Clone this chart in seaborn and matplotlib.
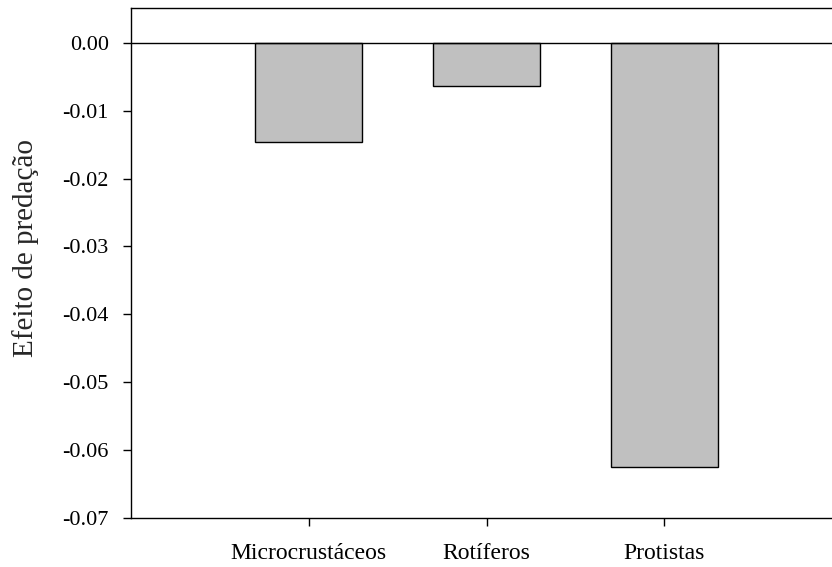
import matplotlib
matplotlib.use('Agg')
import matplotlib.pyplot as plt
import seaborn as sns
import pandas as pd

# data
categories = ['Microcrustáceos', 'Rotíferos', 'Protistas']
effects = [-0.0146, -0.0063, -0.0625]
y_ticks = [0.00, -0.01, -0.02, -0.03, -0.04, -0.05, -0.06, -0.07]

df = pd.DataFrame({'grupo': categories, 'efeito': effects})

sns.set_theme(style='ticks')
plt.rcParams['font.family'] = ['Liberation Serif', 'DejaVu Serif']

fig = plt.figure(figsize=(8.32, 5.67), dpi=100)
ax = fig.add_axes([0.1575, 0.0873, 0.8546, 0.8986])

sns.barplot(data=df, x='grupo', y='efeito', color='#c0c0c0',
            edgecolor='black', linewidth=1.0, width=0.6, saturation=1, ax=ax)
ax.axhline(0, color='black', linewidth=1.0, zorder=3)

ax.set_xlim(-1, 3)
ax.set_ylim(-0.07, 0.0052)
ax.set_yticks(y_ticks)
ax.set_yticklabels([f'{v:.2f}' for v in y_ticks])
ax.set_xlabel('')
ax.set_ylabel('Efeito de predação', fontsize=21)
ax.yaxis.set_label_coords(-0.129, 0.529)
ax.tick_params(axis='both', labelsize=16, direction='out', length=6,
               width=1, color='black', labelcolor='black')
ax.tick_params(axis='x', labelsize=17, pad=12)
ax.tick_params(axis='y', pad=10)
for side in ['left', 'bottom', 'top']:
    ax.spines[side].set_color('black')
    ax.spines[side].set_linewidth(1.0)
ax.spines['right'].set_visible(False)

fig.savefig('out.png', dpi=100)
